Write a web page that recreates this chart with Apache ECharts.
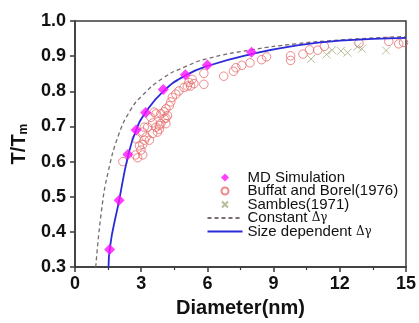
<!DOCTYPE html>
<html>
<head>
<meta charset="utf-8">
<script src="https://cdn.jsdelivr.net/npm/echarts@6/dist/echarts.min.js"></script>
<style>
  html, body { margin: 0; padding: 0; background: #fff; }
  #chart { width: 419px; height: 323px; }
</style>
</head>
<body>
<div id="chart"></div>
<script>
// MD simulation points (diameter nm, T/Tm)
const mdX = [1.57, 2.0, 2.4, 2.77, 3.2, 4.0, 5.0, 6.0, 8.0]
const mdY = [0.35, 0.49, 0.62, 0.69, 0.74, 0.805, 0.847, 0.875, 0.911]

// Buffat and Borel (1976)
const bbX = [2.17, 2.74, 2.84, 3.07, 2.99, 2.92, 3.07, 3.14, 3.22, 3.37, 3.52, 3.74, 3.67, 3.89, 4.04, 4.19,
  4.12, 4.27, 4.34, 4.41, 4.57, 4.71, 4.94, 5.09, 3.07, 3.29, 3.52, 3.67, 3.89, 4.04, 3.82, 3.82, 4.12, 4.12,
  3.44, 3.59, 5.24, 5.39, 5.16, 5.31, 5.84, 5.84, 6.74, 7.18, 7.29, 7.56, 7.93, 8.46, 8.68, 9.77, 9.77, 10.33,
  10.63, 11.0, 11.3, 12.87, 14.22, 14.67, 14.89, 2.77, 3.14]
const bbY = [0.600, 0.619, 0.611, 0.619, 0.633, 0.645, 0.649, 0.661, 0.670, 0.661, 0.680, 0.684, 0.698, 0.708, 0.722, 0.731,
  0.750, 0.759, 0.770, 0.783, 0.792, 0.801, 0.811, 0.815, 0.684, 0.698, 0.710, 0.736, 0.736, 0.742, 0.703, 0.692, 0.724, 0.708,
  0.726, 0.741, 0.815, 0.822, 0.825, 0.834, 0.851, 0.820, 0.843, 0.857, 0.867, 0.874, 0.881, 0.890, 0.898, 0.901, 0.888, 0.906,
  0.918, 0.917, 0.928, 0.937, 0.942, 0.935, 0.939, 0.665, 0.698]

// Sambles (1971)
const saX = [10.7, 11.4, 11.65, 12.05, 12.35, 12.8, 13.0, 14.1]
const saY = [0.892, 0.905, 0.917, 0.915, 0.910, 0.927, 0.921, 0.916]

// Constant delta gamma (dashed)
const constX = [0.94, 1.2, 1.5, 2.0, 2.5, 3.0, 4.0, 5.0, 6.0, 8.0, 10.0, 12.0, 15.0]
const constY = [0.30, 0.46, 0.57, 0.68, 0.745, 0.785, 0.838, 0.870, 0.893, 0.918, 0.935, 0.946, 0.956]

// Size dependent delta gamma (solid)
const sizeX = [1.52, 1.57, 2.0, 2.4, 2.77, 3.2, 4.0, 5.0, 6.0, 8.0, 10.0, 12.0, 15.0]
const sizeY = [0.30, 0.35, 0.49, 0.615, 0.69, 0.74, 0.80, 0.845, 0.872, 0.906, 0.930, 0.944, 0.952]

const xTicks = [0, 3, 6, 9, 12, 15]
const yTicks = [0.3, 0.4, 0.5, 0.6, 0.7, 0.8, 0.9, 1.0]

const zip = (xs, ys) => xs.map((x, i) => [x, ys[i]])

const chart = echarts.init(document.getElementById('chart'))
const font = 'Liberation Sans, Arial, sans-serif'
const axisColor = '#3a3a3a'
const dashColor = '#7a6a72'
const blue = '#2a2ad8'
// legend icons: the moveTo corners pin the box to 35x9 so the small symbols are not stretched
const legendDiamond = 'path://M0,0M35,9M17.5,0.5L21.5,4.5L17.5,8.5L13.5,4.5Z'
const legendCircle = 'path://M0,0M35,9M21,4.5A3.5,3.5,0,1,1,14,4.5A3.5,3.5,0,1,1,21,4.5Z'
const legendCross = 'path://M0,0M35,9M14.5,1.5L20.5,7.5M20.5,1.5L14.5,7.5'

chart.setOption({
  animation: false,
  textStyle: { fontFamily: font },
  grid: { left: 75, right: 10, top: 21, bottom: 53, show: true, borderColor: axisColor, borderWidth: 1.5 },
  xAxis: {
    type: 'value',
    min: xTicks[0], max: xTicks[xTicks.length - 1], interval: 3,
    name: 'Diameter(nm)',
    nameLocation: 'middle',
    nameGap: 29,
    nameTextStyle: { fontSize: 20, fontWeight: 'bold', color: '#111' },
    axisLine: { lineStyle: { color: axisColor, width: 1.5 } },
    axisTick: { inside: false, length: 5, lineStyle: { color: axisColor, width: 1.5 } },
    minorTick: { show: true, splitNumber: 2, length: 3, lineStyle: { color: axisColor, width: 1.2 } },
    axisLabel: { fontSize: 18, fontWeight: 'bold', color: '#111', margin: 8 },
    splitLine: { show: false }
  },
  yAxis: {
    type: 'value',
    min: yTicks[0], max: yTicks[yTicks.length - 1], interval: 0.1,
    name: '{a|T/T}{b|m}',
    nameLocation: 'middle',
    nameGap: 45,
    nameRotate: 90,
    nameTextStyle: {
      rich: {
        a: { fontSize: 20, fontWeight: 'bold', color: '#111', fontFamily: font },
        b: { fontSize: 12, fontWeight: 'bold', color: '#111', fontFamily: font, verticalAlign: 'bottom', padding: [10, 0, 0, 0] }
      }
    },
    axisLine: { lineStyle: { color: axisColor, width: 1.5 } },
    axisTick: { inside: false, length: 5, lineStyle: { color: axisColor, width: 1.5 } },
    axisLabel: { fontSize: 18, fontWeight: 'bold', color: '#111', margin: 9, formatter: v => v.toFixed(1) },
    splitLine: { show: false }
  },
  legend: {
    orient: 'vertical',
    left: 205, top: 170,
    padding: 0,
    itemWidth: 35, itemHeight: 9, itemGap: -1.5,
    textStyle: { fontSize: 15, lineHeight: 14, color: '#111', fontFamily: font,
      rich: { g: { fontSize: 12, lineHeight: 14, fontFamily: 'DejaVu Serif', color: '#111' } } },
    formatter: name => name.replace('Δγ', '{g|Δγ}'),
    data: [
      { name: 'MD Simulation', icon: legendDiamond },
      { name: 'Buffat and Borel(1976)', icon: legendCircle },
      { name: 'Sambles(1971)', icon: legendCross },
      { name: 'Constant Δγ', itemStyle: { opacity: 0 } },
      { name: 'Size dependent Δγ', itemStyle: { opacity: 0 } }
    ]
  },
  series: [
    {
      name: 'Constant Δγ', type: 'line', smooth: true, symbol: 'none', z: 2,
      lineStyle: { color: dashColor, width: 1.3, type: [4, 3] },
      itemStyle: { color: dashColor },
      data: zip(constX, constY)
    },
    {
      name: 'Size dependent Δγ', type: 'line', smooth: true, symbol: 'none', z: 3,
      lineStyle: { color: blue, width: 1.8 },
      itemStyle: { color: blue },
      data: zip(sizeX, sizeY)
    },
    {
      name: 'Buffat and Borel(1976)', type: 'scatter', symbol: 'circle', symbolSize: 8.5, z: 2,
      itemStyle: { color: 'rgba(0,0,0,0)', borderColor: '#e86c6c', borderWidth: 1 },
      data: zip(bbX, bbY)
    },
    {
      name: 'Sambles(1971)', type: 'scatter', symbol: 'path://M0,0L10,10M10,0L0,10', symbolSize: 8, z: 2,
      itemStyle: { color: 'none', borderColor: '#a6ad80', borderWidth: 1 },
      data: zip(saX, saY)
    },
    {
      name: 'MD Simulation', type: 'scatter', symbol: 'diamond', symbolSize: 11, z: 5,
      itemStyle: { color: '#ff10ff' },
      data: zip(mdX, mdY)
    }
  ]
})
</script>
</body>
</html>
